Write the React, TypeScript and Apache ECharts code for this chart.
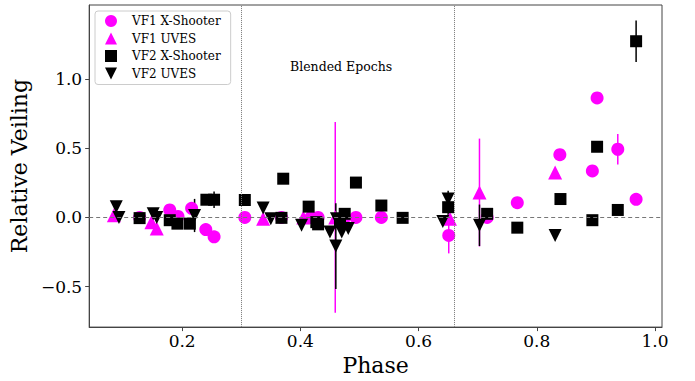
import React, { useEffect, useRef } from "react";
import * as echarts from "echarts";

const vf1XsPhase = [0.128, 0.179, 0.193, 0.216, 0.240, 0.254, 0.306, 0.368, 0.418, 0.430, 0.475, 0.494, 0.537, 0.651, 0.716, 0.767, 0.839, 0.894, 0.902, 0.937, 0.968];
const vf1XsVal = [0.0, 0.054, 0.007, 0.066, -0.088, -0.14, 0.0, 0.0, 0.0, 0.0, 0.0, 0.0, 0.0, -0.13, 0.0, 0.107, 0.454, 0.336, 0.864, 0.493, 0.131];
const vf1XsErr = [0, 0, 0, 0, 0, 0, 0, 0, 0, 0, 0, 0, 0, 0.13, 0, 0, 0, 0, 0, 0.11, 0.03];

const vf1UvesPhase = [0.0845, 0.148, 0.157, 0.337, 0.405, 0.459, 0.653, 0.703, 0.831];
const vf1UvesVal = [0.016, -0.035, -0.08, -0.01, 0.0, 0.0, -0.01, 0.18, 0.324];
const vf1UvesErr = [0, 0, 0, 0, 0, 0.69, 0, 0.39, 0];

const vf2XsPhase = [0.128, 0.179, 0.192, 0.213, 0.241, 0.254, 0.306, 0.368, 0.371, 0.414, 0.427, 0.430, 0.467, 0.475, 0.494, 0.537, 0.573, 0.650, 0.716, 0.767, 0.840, 0.894, 0.902, 0.937, 0.968];
const vf2XsVal = [-0.005, -0.02, -0.045, -0.045, 0.128, 0.128, 0.126, -0.003, 0.28, 0.078, -0.034, -0.05, -0.034, 0.026, 0.252, 0.086, -0.003, 0.074, 0.026, -0.074, 0.133, -0.02, 0.511, 0.054, 1.274];
const vf2XsErr = [0, 0, 0, 0, 0, 0.06, 0, 0, 0, 0, 0, 0, 0, 0, 0, 0, 0, 0.1, 0, 0, 0, 0, 0, 0, 0.15];

const vf2UvesPhase = [0.0885, 0.093, 0.151, 0.157, 0.221, 0.337, 0.350, 0.402, 0.450, 0.460, 0.461, 0.470, 0.481, 0.641, 0.650, 0.703, 0.831];
const vf2UvesVal = [0.078, 0.0, 0.026, 0.0, 0.014, 0.069, -0.01, -0.057, -0.105, -0.207, -0.01, -0.105, -0.08, -0.03, 0.133, -0.057, -0.13];
const vf2UvesErr = [0, 0, 0, 0, 0.12, 0, 0, 0, 0, 0.31, 0, 0, 0, 0, 0.06, 0.15, 0];

const xTicks = [0.2, 0.4, 0.6, 0.8, 1.0];
const yTicks = [-0.5, 0.0, 0.5, 1.0];
const blendStart = 0.2964;
const blendEnd = 0.657;

const MAGENTA = "#ff00ff";
const BLACK = "#000000";
const FONT = "DejaVu Serif";
const DOWN_TRI = "path://M0,0 L10,0 L5,10 Z";

function pts(px: number[], py: number[]) {
  return px.map((x, i) => [x, py[i]]);
}
function errPts(px: number[], py: number[], pe: number[]) {
  return px.map((x, i) => [x, py[i], pe[i]]).filter((d) => d[2] > 0);
}

function errSeries(data: number[][], color: string) {
  return {
    type: "custom",
    data,
    silent: true,
    renderItem: (params: any, api: any) => {
      const x = api.value(0);
      const y = api.value(1);
      const e = api.value(2);
      const p1 = api.coord([x, y - e]);
      const p2 = api.coord([x, y + e]);
      return {
        type: "line",
        shape: { x1: p1[0], y1: p1[1], x2: p2[0], y2: p2[1] },
        style: { stroke: color, lineWidth: 1.5 },
      };
    },
  };
}

function fmt(v: number) {
  return v < 0 ? "\u2212" + Math.abs(v).toFixed(1) : v.toFixed(1);
}

export default function App() {
  const ref = useRef<HTMLDivElement>(null);
  useEffect(() => {
    if (!ref.current) return;
    const chart = echarts.init(ref.current, null, { renderer: "svg" });
    chart.setOption({
      animation: false,
      backgroundColor: "#ffffff",
      grid: { left: 89, right: 33, top: 5, bottom: 50, show: true, borderColor: "#444", borderWidth: 1, backgroundColor: "transparent" },
      legend: {
        orient: "vertical",
        left: 95,
        top: 11,
        padding: [4, 10, 5, 10],
        itemWidth: 12,
        itemHeight: 12,
        itemGap: 5.5,
        borderColor: "#cccccc",
        borderWidth: 1,
        borderRadius: 3,
        backgroundColor: "rgba(255,255,255,0.8)",
        textStyle: { fontFamily: FONT, fontSize: 12, color: "#000", padding: [0, 0, 0, 10] },
        data: [
          { name: "VF1 X-Shooter", icon: "circle" },
          { name: "VF1 UVES", icon: "triangle" },
          { name: "VF2 X-Shooter", icon: "rect" },
          { name: "VF2 UVES", icon: DOWN_TRI },
        ],
      },
      xAxis: {
        type: "value",
        min: 0.0427,
        max: 1.0118,
        name: "Phase",
        nameLocation: "middle",
        nameGap: 25,
        nameTextStyle: { fontFamily: FONT, fontSize: 22, color: "#000" },
        axisLine: { show: true, onZero: false, lineStyle: { color: "#444" } },
        axisTick: { show: true, length: 4, customValues: xTicks, lineStyle: { color: "#444" } },
        axisLabel: { customValues: xTicks, formatter: fmt, fontFamily: FONT, fontSize: 17, color: "#000", margin: 5 },
        splitLine: { show: false },
      },
      yAxis: {
        type: "value",
        min: -0.793,
        max: 1.536,
        name: "Relative Veiling",
        nameLocation: "middle",
        nameGap: 53,
        nameTextStyle: { fontFamily: FONT, fontSize: 22, color: "#000" },
        axisLine: { show: true, onZero: false, lineStyle: { color: "#444" } },
        axisTick: { show: true, length: 4, customValues: yTicks, lineStyle: { color: "#444" } },
        axisLabel: { customValues: yTicks, formatter: fmt, fontFamily: FONT, fontSize: 17, color: "#000", margin: 7 },
        splitLine: { show: false },
      },
      series: [
        {
          type: "line",
          data: [],
          silent: true,
          markLine: {
            silent: true,
            symbol: "none",
            label: { show: false },
            data: [
              { xAxis: blendStart, lineStyle: { type: "dotted", color: "#777", width: 1 } },
              { xAxis: blendEnd, lineStyle: { type: "dotted", color: "#777", width: 1 } },
              { yAxis: 0, lineStyle: { type: [4, 3], color: "#777", width: 1 } },
            ],
          },
        },
        errSeries(errPts(vf1XsPhase, vf1XsVal, vf1XsErr), MAGENTA),
        {
          name: "VF1 X-Shooter",
          type: "scatter",
          symbol: "circle",
          symbolSize: 13,
          itemStyle: { color: MAGENTA, opacity: 1 },
          data: pts(vf1XsPhase, vf1XsVal),
        },
        errSeries(errPts(vf1UvesPhase, vf1UvesVal, vf1UvesErr), MAGENTA),
        {
          name: "VF1 UVES",
          type: "scatter",
          symbol: "triangle",
          symbolSize: 14,
          itemStyle: { color: MAGENTA, opacity: 1 },
          data: pts(vf1UvesPhase, vf1UvesVal),
        },
        errSeries(errPts(vf2XsPhase, vf2XsVal, vf2XsErr), BLACK),
        {
          name: "VF2 X-Shooter",
          type: "scatter",
          symbol: "rect",
          symbolSize: 12,
          itemStyle: { color: BLACK, opacity: 1 },
          data: pts(vf2XsPhase, vf2XsVal),
        },
        errSeries(errPts(vf2UvesPhase, vf2UvesVal, vf2UvesErr), BLACK),
        {
          name: "VF2 UVES",
          type: "scatter",
          symbol: DOWN_TRI,
          symbolSize: 13,
          itemStyle: { color: BLACK, opacity: 1 },
          data: pts(vf2UvesPhase, vf2UvesVal),
        },
      ],
      graphic: [
        {
          type: "text",
          left: 290,
          top: 60,
          style: { text: "Blended Epochs", fontFamily: FONT, fontSize: 12.5, fill: "#000" },
        },
      ],
    });
    return () => chart.dispose();
  }, []);
  return <div ref={ref} style={{ position: "fixed", left: 0, top: 0, width: 695, height: 381 }} />;
}
